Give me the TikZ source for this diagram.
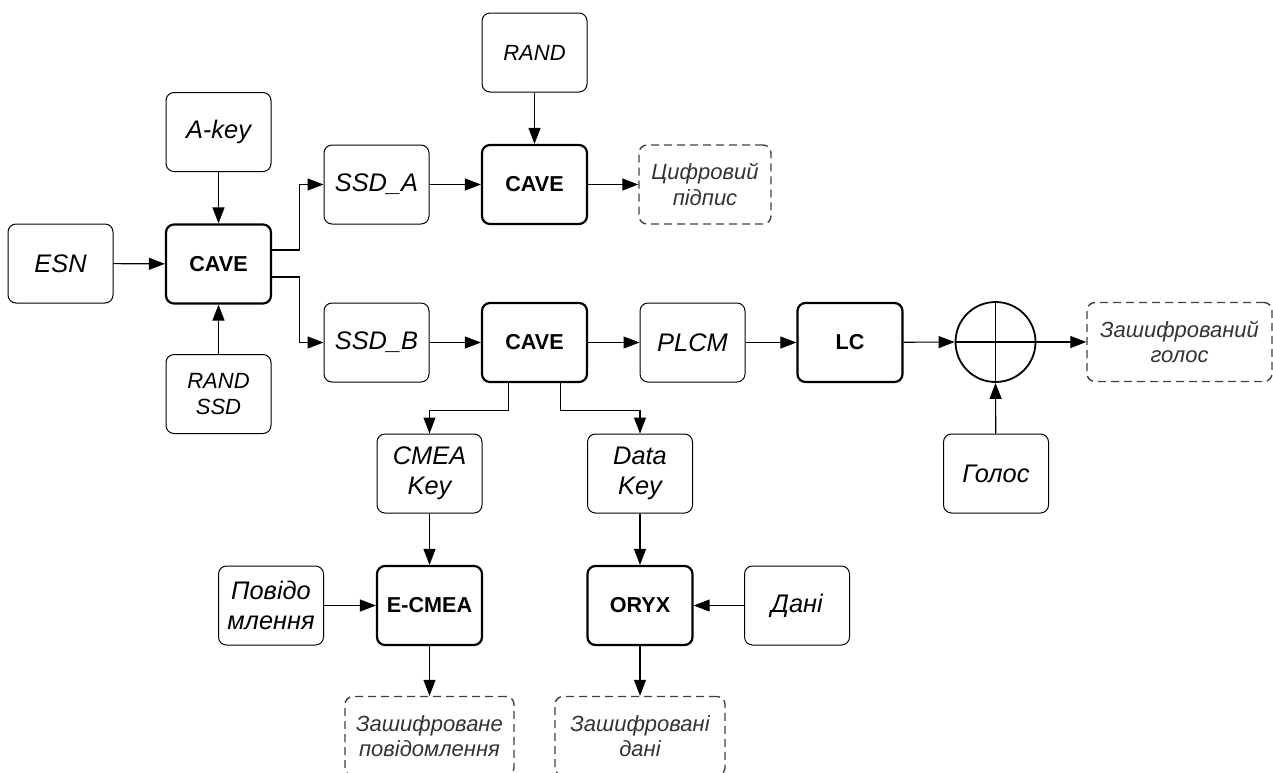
\documentclass[tikz,border=0pt]{standalone}
\usepackage{fontspec}
\setmainfont{Liberation Sans}
\usetikzlibrary{arrows.meta}
\begin{document}
\begin{tikzpicture}[x=0.5pt,y=-0.5pt,
 base/.style={draw, rounded corners=4pt, minimum width=52.5pt, minimum height=39.5pt, inner sep=0pt, align=center},
 inbox/.style={base, line width=0.5pt, font=\fontsize{12.7}{15}\selectfont\itshape},
 insm/.style={base, line width=0.5pt, font=\fontsize{11}{12.8}\selectfont\itshape},
 procbox/.style={base, line width=1.1pt, font=\fontsize{10.8}{13}\selectfont\bfseries},
 outbox/.style={base, dash pattern=on 4pt off 2.5pt, draw=black!75, text=black!80, line width=0.7pt, font=\fontsize{11}{12.8}\selectfont\itshape},
 xorbox/.style={circle, draw, line width=0.9pt, minimum size=40pt, inner sep=0pt,
   path picture={\draw[line width=0.6pt] (path picture bounding box.north) -- (path picture bounding box.south)
     (path picture bounding box.west) -- (path picture bounding box.east);}},
 arr/.style={-{Triangle[length=8pt,width=6pt]}, line width=0.55pt},
]
\useasboundingbox (0,0) rectangle (1273,772);
\clip (0,0) rectangle (1273,772);

% nodes
\node[inbox] (esn) at (60.5,263.5) {ESN};
\node[inbox] (akey) at (218.5,132) {A-key};
\node[procbox] (cave1) at (218.5,264) {CAVE};
\node[insm] (randssd) at (218.5,394) {RAND\\SSD};
\node[inbox] (ssda) at (376.5,184.5) {SSD\_A};
\node[inbox] (ssdb) at (376.5,342.5) {SSD\_B};
\node[insm] (rand) at (534.5,52.5) {RAND};
\node[procbox] (cave2) at (534.5,184.5) {CAVE};
\node[outbox, minimum width=66pt] (sig) at (705,184.5) {Цифровий\\підпис};
\node[procbox] (cave3) at (534.5,342.5) {CAVE};
\node[inbox] (plcm) at (692.5,342.5) {PLCM};
\node[procbox] (lc) at (850,342.5) {LC};
\node[xorbox] (xor) at (995.5,342) {};
\node[outbox, minimum width=92.5pt] (evoice) at (1179.5,342) {Зашифрований\\голос};
\node[inbox] (voice) at (996,473.5) {Голос};
\node[inbox] (cmeakey) at (429.5,473.5) {CMEA\\Key};
\node[inbox] (datakey) at (640,473.5) {Data\\Key};
\node[procbox] (ecmea) at (429.5,605.5) {E-CMEA};
\node[procbox] (oryx) at (640,605.5) {ORYX};
\node[inbox] (msg) at (271,605.5) {Повідо\\млення};
\node[inbox] (dani) at (797,605.5) {Дані};
\node[outbox, minimum width=84.5pt] (emsg) at (429.5,736) {Зашифроване\\повідомлення};
\node[outbox, minimum width=85pt] (edata) at (640,736) {Зашифровані\\дані};

% connectors
\draw[arr] (esn) -- (cave1);
\draw[arr] (akey) -- (cave1);
\draw[arr] (randssd) -- (cave1);
\draw[arr] ([yshift=7pt]cave1.east) -- ++(27,0) |- (ssda.west);
\draw[arr] ([yshift=-6.5pt]cave1.east) -- ++(27,0) |- (ssdb.west);
\draw[arr] (ssda) -- (cave2);
\draw[arr] (rand) -- (cave2);
\draw[arr] (cave2) -- (sig);
\draw[arr] (ssdb) -- (cave3);
\draw[arr] (cave3) -- (plcm);
\draw[arr] (plcm) -- (lc);
\draw[arr] (lc) -- (xor.west);
\draw[arr] (xor.east) -- (evoice);
\draw[arr] (voice) -- (xor.south);
\draw[arr] ([xshift=-13pt]cave3.south) -- ++(0,27) -| (cmeakey.north);
\draw[arr] ([xshift=13pt]cave3.south) -- ++(0,27) -| (datakey.north);
\draw[arr] (cmeakey) -- (ecmea);
\draw[arr] (datakey) -- (oryx);
\draw[arr] (msg) -- (ecmea);
\draw[arr] (dani) -- (oryx);
\draw[arr] (ecmea) -- (emsg);
\draw[arr] (oryx) -- (edata);
\end{tikzpicture}
\end{document}
